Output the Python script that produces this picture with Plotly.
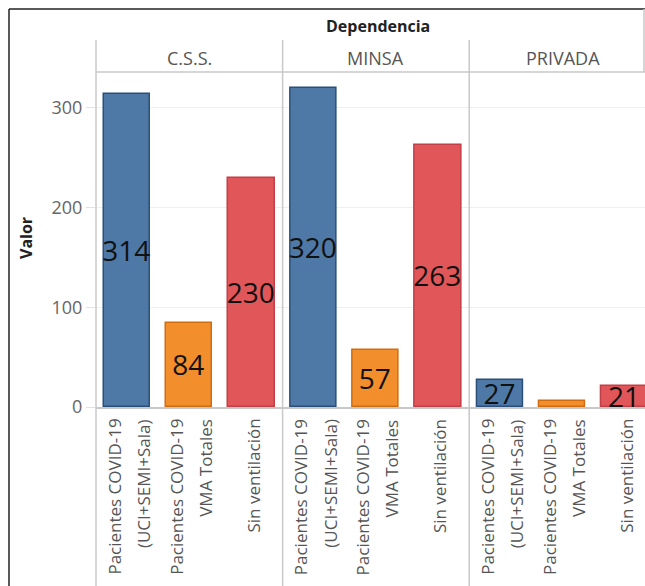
import plotly.graph_objects as go

# ---------------- data ----------------
dependencias = ["C.S.S.", "MINSA", "PRIVADA"]
categorias = [
    "Pacientes COVID-19 (UCI+SEMI+Sala)",
    "Pacientes COVID-19 VMA Totales",
    "Sin ventilación",
]
etiquetas_categoria = [
    ["Pacientes COVID-19", "(UCI+SEMI+Sala)"],
    ["Pacientes COVID-19", "VMA Totales"],
    ["Sin ventilación"],
]
valores_css = [314, 84, 230]
valores_minsa = [320, 57, 263]
valores_privada = [27, 6, 21]
valores = [valores_css, valores_minsa, valores_privada]
y_ticks = [0, 100, 200, 300]
y_tick_labels = ["0", "100", "200", "300"]

# ---------------- styling ----------------
colores = ["#4e79a7", "#f28e2b", "#e15759"]
bordes = ["#2b4f78", "#cf6d10", "#c23f48"]
FONT = "Open Sans"

W, H = 645, 586
L, T, B = 96, 73, 179
PW = W - L
PH = H - T - B
unit = 62.2  # px per category
panel_px = 3 * unit


def px_x(px):
    return (px - L) / PW


def px_y(py):
    return (H - B - py) / PH


domains = []
for i in range(3):
    d0 = i * panel_px / PW
    d1 = min((i + 1) * panel_px / PW, 1.0)
    domains.append([d0, d1])

fig = go.Figure()
axis_names = ["x", "x2", "x3"]
for p in range(3):
    txt = [str(v) if v >= 10 else "" for v in valores[p]]
    fig.add_trace(go.Bar(
        x=categorias, y=valores[p], xaxis=axis_names[p], yaxis="y",
        width=0.74,
        marker=dict(color=colores, line=dict(color=bordes, width=1.5)),
        text=txt, textposition="inside", insidetextanchor="middle",
        constraintext="none", textangle=0,
        textfont=dict(family=FONT, size=28, color="#111111"),
        showlegend=False, hoverinfo="x+y",
    ))

layout_axes = {}
for p in range(3):
    key = "xaxis" if p == 0 else f"xaxis{p + 1}"
    span = (domains[p][1] - domains[p][0]) * PW / unit
    layout_axes[key] = dict(
        domain=domains[p], anchor="y", type="category",
        categoryorder="array", categoryarray=categorias,
        range=[-0.5, -0.5 + span],
        showticklabels=False, ticks="",
        showline=True, linecolor="#c8c8c8", linewidth=1.5,
        showgrid=False, zeroline=False, fixedrange=True,
    )

fig.update_layout(
    width=W, height=H,
    margin=dict(l=L, r=0, t=T, b=B, pad=0),
    paper_bgcolor="white", plot_bgcolor="white",
    bargap=0,
    yaxis=dict(
        range=[0, 335], tickvals=y_ticks, ticktext=y_tick_labels,
        showgrid=True, gridcolor="#efefef", gridwidth=1,
        zeroline=False, showline=False,
        ticks="outside", ticklen=9, tickcolor="#e2e2e2",
        tickfont=dict(family=FONT, size=18, color="#666666"),
        anchor="x", fixedrange=True,
    ),
    **layout_axes,
)

annotations = []
# category labels (rotated, multi-line with wide spacing)
for p in range(3):
    for c, lines in enumerate(etiquetas_categoria):
        n = len(lines)
        for j, line in enumerate(lines):
            annotations.append(dict(
                text=line, xref=axis_names[p], x=categorias[c],
                yref="paper", y=px_y(417), yanchor="top", xanchor="center",
                xshift=(j - (n - 1) / 2) * 29 + 2,
                textangle=-90, showarrow=False,
                font=dict(family=FONT, size=17, color="#555555"),
            ))
# panel headers
for p, dep in enumerate(dependencias):
    cx = (p + 0.5) * panel_px / PW
    annotations.append(dict(
        text=dep, xref="paper", x=cx, yref="paper", y=px_y(58),
        xanchor="center", yanchor="middle", showarrow=False,
        font=dict(family=FONT, size=18, color="#555555"),
    ))
annotations.append(dict(
    text="<b>Dependencia</b>", xref="paper", x=px_x(378), yref="paper", y=px_y(26),
    xanchor="center", yanchor="middle", showarrow=False,
    font=dict(family=FONT, size=16, color="#222222"),
))
annotations.append(dict(
    text="<b>Valor</b>", xref="paper", x=px_x(26), yref="paper", y=px_y(238),
    xanchor="center", yanchor="middle", showarrow=False, textangle=-90,
    font=dict(family=FONT, size=16, color="#222222"),
))
fig.update_layout(annotations=annotations)

shapes = []
# outer frame (left and top)
shapes.append(dict(type="line", xref="paper", yref="paper",
                   x0=px_x(9), x1=px_x(9), y0=px_y(9), y1=px_y(H + 5),
                   line=dict(color="#222222", width=1.5)))
shapes.append(dict(type="line", xref="paper", yref="paper",
                   x0=px_x(9), x1=px_x(W + 5), y0=px_y(9), y1=px_y(9),
                   line=dict(color="#222222", width=1.5)))
# right edge of header
shapes.append(dict(type="line", xref="paper", yref="paper",
                   x0=px_x(644), x1=px_x(644), y0=px_y(9), y1=px_y(72),
                   line=dict(color="#c8c8c8", width=1.5)))
# header underline
shapes.append(dict(type="line", xref="paper", yref="paper",
                   x0=0, x1=1, y0=px_y(72), y1=px_y(72),
                   line=dict(color="#c8c8c8", width=1.5)))
# panel separators
for p in range(3):
    xs = p * panel_px / PW
    shapes.append(dict(type="line", xref="paper", yref="paper",
                       x0=xs, x1=xs, y0=px_y(40), y1=px_y(H + 5),
                       line=dict(color="#c8c8c8", width=1.5)))
fig.update_layout(shapes=shapes)

fig.write_html(
    "out.html",
    config={"displayModeBar": False},
    post_script="document.body.style.margin='0px';document.body.style.overflow='hidden';",
)
